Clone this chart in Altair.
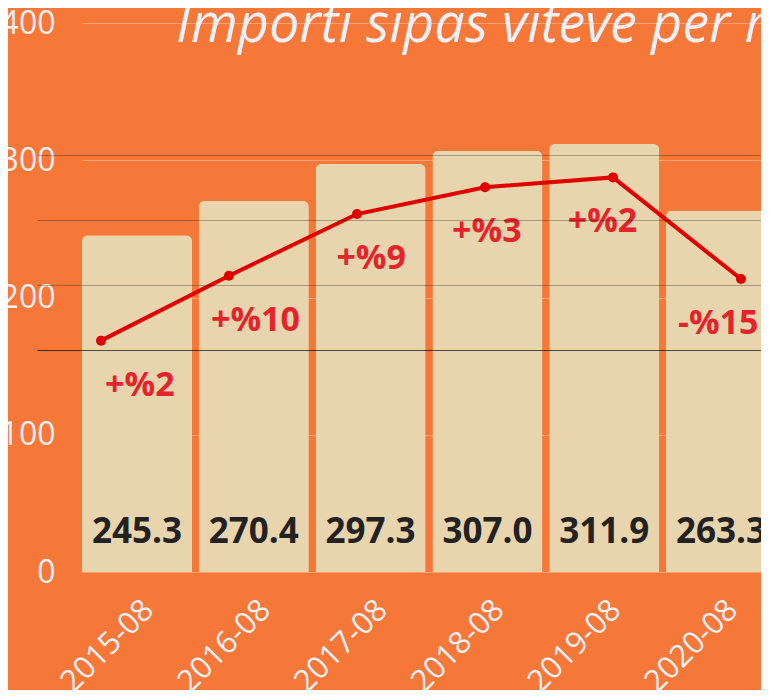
import altair as alt
import pandas as pd

# ---- data ----
months = ["2015-08", "2016-08", "2017-08", "2018-08", "2019-08", "2020-08"]
imports = [245.3, 270.4, 297.3, 307.0, 311.9, 263.3]
trend = [228.6, 253.6, 277.3, 287.6, 291.4, 252.3]
growth = ["+%2", "+%10", "+%9", "+%3", "+%2", "-%15"]
bar_ticks = [0, 100, 200, 300, 400]
trend_ticks = [225, 250, 275, 300]
title_text = ["Importi sipas viteve për muajin gusht"]

df = pd.DataFrame({"month": months, "imports": imports, "trend": trend, "growth": growth})
df_title = pd.DataFrame({"title": title_text})

ORANGE = "#F67839"
BEIGE = "#E8D5AD"
RED_LINE = "#E00000"
RED_TEXT = "#E5232B"
LIGHT = "#F1F0F6"
FONT = "Open Sans"

base = alt.Chart(df)

band_scale = alt.Scale(paddingInner=0.058, paddingOuter=0)

x_band = alt.X(
    "month:N", sort=months, scale=band_scale, title=None,
    axis=alt.Axis(labelAngle=-45, labelAlign="right", labelBaseline="middle",
                  labelFontSize=31, labelFont=FONT, labelColor=LIGHT,
                  ticks=False, domain=False, grid=False,
                  labelPadding=33, labelOffset=12),
)

y_bar = alt.Y(
    "imports:Q", scale=alt.Scale(domain=[0, 400], nice=False), title=None,
    axis=alt.Axis(values=bar_ticks, ticks=False, domain=False,
                  labelFontSize=32, labelFont=FONT, labelColor=LIGHT,
                  labelPadding=27, gridColor="#FFFFFF", gridOpacity=0.3),
)

bars = base.mark_bar(color=BEIGE, cornerRadiusTopLeft=6, cornerRadiusTopRight=6).encode(
    x=x_band, y=y_bar
)

value_labels = base.mark_text(
    font=FONT, fontWeight="bold", fontSize=35, color="#222222",
    baseline="alphabetic", dy=-29,
).encode(
    x=alt.X("month:N", sort=months),
    y=alt.datum(0),
    text=alt.Text("imports:Q", format=".1f"),
)

title = alt.Chart(df_title).mark_text(
    font=FONT, fontStyle="italic", fontSize=54, color=LIGHT,
    align="left", baseline="alphabetic",
).encode(
    x=alt.value(94), y=alt.value(19), text="title:N",
)

left = alt.layer(bars, value_labels, title)

y_trend = alt.Y(
    "trend:Q", scale=alt.Scale(domain=[139.6, 350.8], nice=False, zero=False), title=None,
    axis=alt.Axis(orient="left", values=trend_ticks, labels=False, domain=False,
                  grid=True, ticks=True,
                  tickSize=45, tickColor="#000000",
                  tickOpacity={"condition": {"test": "datum.value === 225", "value": 0.65}, "value": 0.28},
                  gridColor="#000000",
                  gridOpacity={"condition": {"test": "datum.value === 225", "value": 0.65}, "value": 0.28},
                  zindex=1),
)

line = base.mark_line(
    color=RED_LINE, strokeWidth=4,
    point=alt.OverlayMarkDef(color=RED_LINE, size=100, filled=True, opacity=1),
).encode(
    x=alt.X("month:N", sort=months, scale=alt.Scale(type="point", padding=0.211, align=0.352), axis=None),
    y=y_trend,
)

pct = base.mark_text(
    font=FONT, fontWeight="bold", fontSize=34, color=RED_TEXT, baseline="middle", dy=45,
).encode(
    x=alt.X("month:N", sort=months, scale=band_scale, axis=None),
    y=y_trend,
    text="growth:N",
)

right = alt.layer(pct, line).resolve_scale(x="independent")

chart = (
    alt.layer(left, right)
    .resolve_scale(x="independent", y="independent")
    .properties(
        width=694, height=549,
        background=ORANGE,
        padding={"left": 74, "top": 15, "right": -15, "bottom": 118},
        autosize=alt.AutoSizeParams(type="none"),
    )
    .configure_view(stroke=None)
)

chart.save("out.html", embed_options={"renderer": "svg", "actions": False})
